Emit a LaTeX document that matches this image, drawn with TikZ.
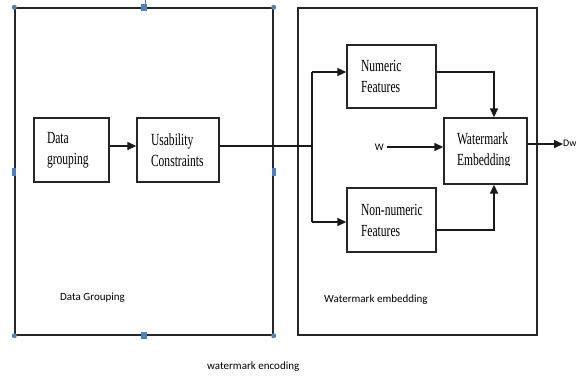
\documentclass[tikz,border=0pt]{standalone}
\usepackage{fontspec}
\setmainfont[FakeStretch=0.68]{Liberation Serif}
\newfontfamily\calfont{Carlito}
\usetikzlibrary{arrows.meta}
\definecolor{handle}{RGB}{79,129,189}
\begin{document}
\begin{tikzpicture}[x=1pt,y=-1pt,
  frame/.style={draw=black!85,line width=1.4pt},
  blk/.style={draw=black!85,line width=1.4pt,rectangle,align=left,inner ysep=0pt,
    font=\rmfamily\fontsize{17}{21}\selectfont},
  conn/.style={line width=1.4pt,black!90},
  arr/.style={conn,-{Triangle[length=9pt,width=8pt]}},
  lbl/.style={font=\calfont\fontsize{11}{13}\selectfont,inner sep=0pt},
  hc/.style={circle,fill=handle,inner sep=0pt,minimum size=5pt},
  hs/.style={rectangle,fill=handle,inner sep=0pt,minimum width=4pt,minimum height=8pt}]
\useasboundingbox (0,0) rectangle (576,376);
\clip (0,0) rectangle (576,376);
% outer frames
\draw[handle,line width=0.5pt] (145,0) -- (145,8);
\node[frame,rectangle,minimum width=258pt,minimum height=327pt,inner sep=0pt] (left) at (144,171.5) {};
\node[frame,rectangle,minimum width=239pt,minimum height=327pt,inner sep=0pt] (right) at (417.5,171.5) {};
% handles
\node[hc] (h1) at (left.north west) {};
\node[hc] (h2) at (left.north east) {};
\node[hc] (h3) at (left.south west) {};
\node[hc] (h4) at (left.south east) {};
\node[hs] (h5) at (left.west) {};
\node[hs] (h6) at (left.east) {};
\node[hs,minimum width=6pt,minimum height=7pt] (h7) at (left.north) {};
\node[hs,minimum width=6pt,minimum height=7pt] (h8) at (left.south) {};
% blocks
\node[blk,text width=49pt,inner xsep=13pt,minimum height=64pt] (dg) at (71.5,150) {Data\\grouping};
\node[blk,text width=54pt,inner xsep=14pt,minimum height=64pt] (uc) at (178,150) {Usability\\Constraints};
\node[blk,text width=61pt,inner xsep=14pt,minimum height=63pt] (nf) at (391.5,76.5) {Numeric\\Features};
\node[blk,text width=61pt,inner xsep=14pt,minimum height=64pt] (nn) at (391.5,220) {Non\mbox{-}numeric\\Features};
\node[blk,minimum width=83pt,minimum height=66pt] (we) at (485.5,151) {};
\begin{scope}
\clip (444,118) rectangle (527,165);
\node[blk,draw=none,text width=57pt,inner xsep=13pt] (wet) at (485.5,150.5) {Watermark\\Embedding};
\end{scope}
% coordinates
\coordinate (j) at (312,146);
\coordinate (jt) at (312,72);
\coordinate (jb) at (312,222);
\coordinate (cx) at (494,0);
\coordinate (dwend) at (563,144);
% labels
\node[lbl,font=\calfont\fontsize{10}{12}\selectfont,anchor=east] (w) at (384,147) {W};
\node[lbl,font=\calfont\fontsize{10}{12}\selectfont,anchor=west] (dw) at (563,143) {Dw};
\node[lbl,anchor=west] (lg) at (60,298) {Data Grouping};
\node[lbl,anchor=west] (le) at (324,300) {Watermark embedding};
\node[lbl,anchor=west] (lw) at (207,367) {watermark encoding};
% connectors
\draw[arr] (dg.east |- 0,146) -- (uc.west |- 0,146);
\draw[conn] (uc.east |- j) -- (j);
\draw[conn] (jt) -- (jb);
\draw[arr] (jt) -- (nf.west |- jt);
\draw[arr] (jb) -- (nn.west |- jb);
\draw[arr] (nf.east |- 0,72) -| (cx |- we.north);
\draw[arr] (nn.east |- 0,230) -| (cx |- we.south);
\draw[arr] ([xshift=3pt]w.east) -- (we.west |- w.east);
\draw[arr] (we.east |- dwend) -- (dwend);
\end{tikzpicture}
\end{document}
